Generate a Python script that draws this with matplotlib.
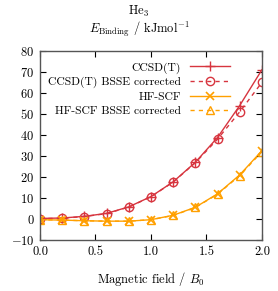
import matplotlib
matplotlib.use("Agg")
import matplotlib.pyplot as plt

plt.rcParams["font.family"] = "serif"
plt.rcParams["font.serif"] = ["cmr10"]
plt.rcParams["mathtext.fontset"] = "cm"
plt.rcParams["axes.formatter.use_mathtext"] = True
plt.rcParams["font.size"] = 9

# data
field = [0.0, 0.2, 0.4, 0.6, 0.8, 1.0, 1.2, 1.4, 1.6, 1.8, 2.0]
ccsdt = [0.3, 0.5, 1.3, 2.7, 5.8, 10.7, 17.7, 27.0, 38.8, 54.0, 71.0]
ccsdt_bsse = [0.2, 0.4, 1.2, 2.6, 5.7, 10.6, 17.6, 26.8, 38.0, 51.0, 65.0]
hf = [-0.3, -0.5, -0.8, -1.0, -1.0, -0.3, 1.8, 5.6, 12.0, 21.0, 32.5]
hf_bsse = [-0.3, -0.5, -0.8, -1.0, -1.0, -0.3, 1.7, 5.5, 11.8, 20.7, 32.0]

red = "#d7353f"
orange = "#ffa000"

fig = plt.figure(figsize=(2.78, 2.91), dpi=100)
ax = fig.add_axes([0.144, 0.175, 0.798, 0.65])

ax.plot(field, ccsdt, color=red, lw=1.0, marker="+", ms=7, mew=1.0, label="CCSD(T)")
ax.plot(field, ccsdt_bsse, color=red, lw=1.0, ls=(0, (3, 3)), marker="o", ms=6,
        mfc="none", mew=1.0, label="CCSD(T) BSSE corrected")
ax.plot(field, hf, color=orange, lw=1.0, marker="x", ms=5.5, mew=1.2, label="HF-SCF")
ax.plot(field, hf_bsse, color=orange, lw=1.0, ls=(0, (3, 3)), marker="^", ms=5.5,
        mfc="none", mew=1.0, label="HF-SCF BSSE corrected")

ax.set_xlim(0, 2)
ax.set_ylim(-10, 80)
ax.set_xticks([0, 0.5, 1.0, 1.5, 2.0])
ax.set_xticklabels(["0.0", "0.5", "1.0", "1.5", "2.0"])
ax.set_yticks(range(-10, 81, 10))
ax.tick_params(direction="in", top=True, right=True, length=4, width=0.8, pad=4)
for s in ax.spines.values():
    s.set_color("#555555")
    s.set_linewidth(1.0)

ax.set_xlabel("Magnetic field / $B_0$", labelpad=9)
fig.text(0.5, 0.962, "He$_3$", ha="center", va="center")
fig.text(0.5, 0.898, "$E_\\mathrm{Binding}$ / kJmol$^{-1}$", ha="center", va="center")

leg = ax.legend(loc="upper right", frameon=False, markerfirst=False, fontsize=8.4,
                handlelength=3.4, handletextpad=0.8, labelspacing=0.3,
                borderpad=0, borderaxespad=0, bbox_to_anchor=(0.856, 0.94))

fig.savefig("out.png", dpi=100)
